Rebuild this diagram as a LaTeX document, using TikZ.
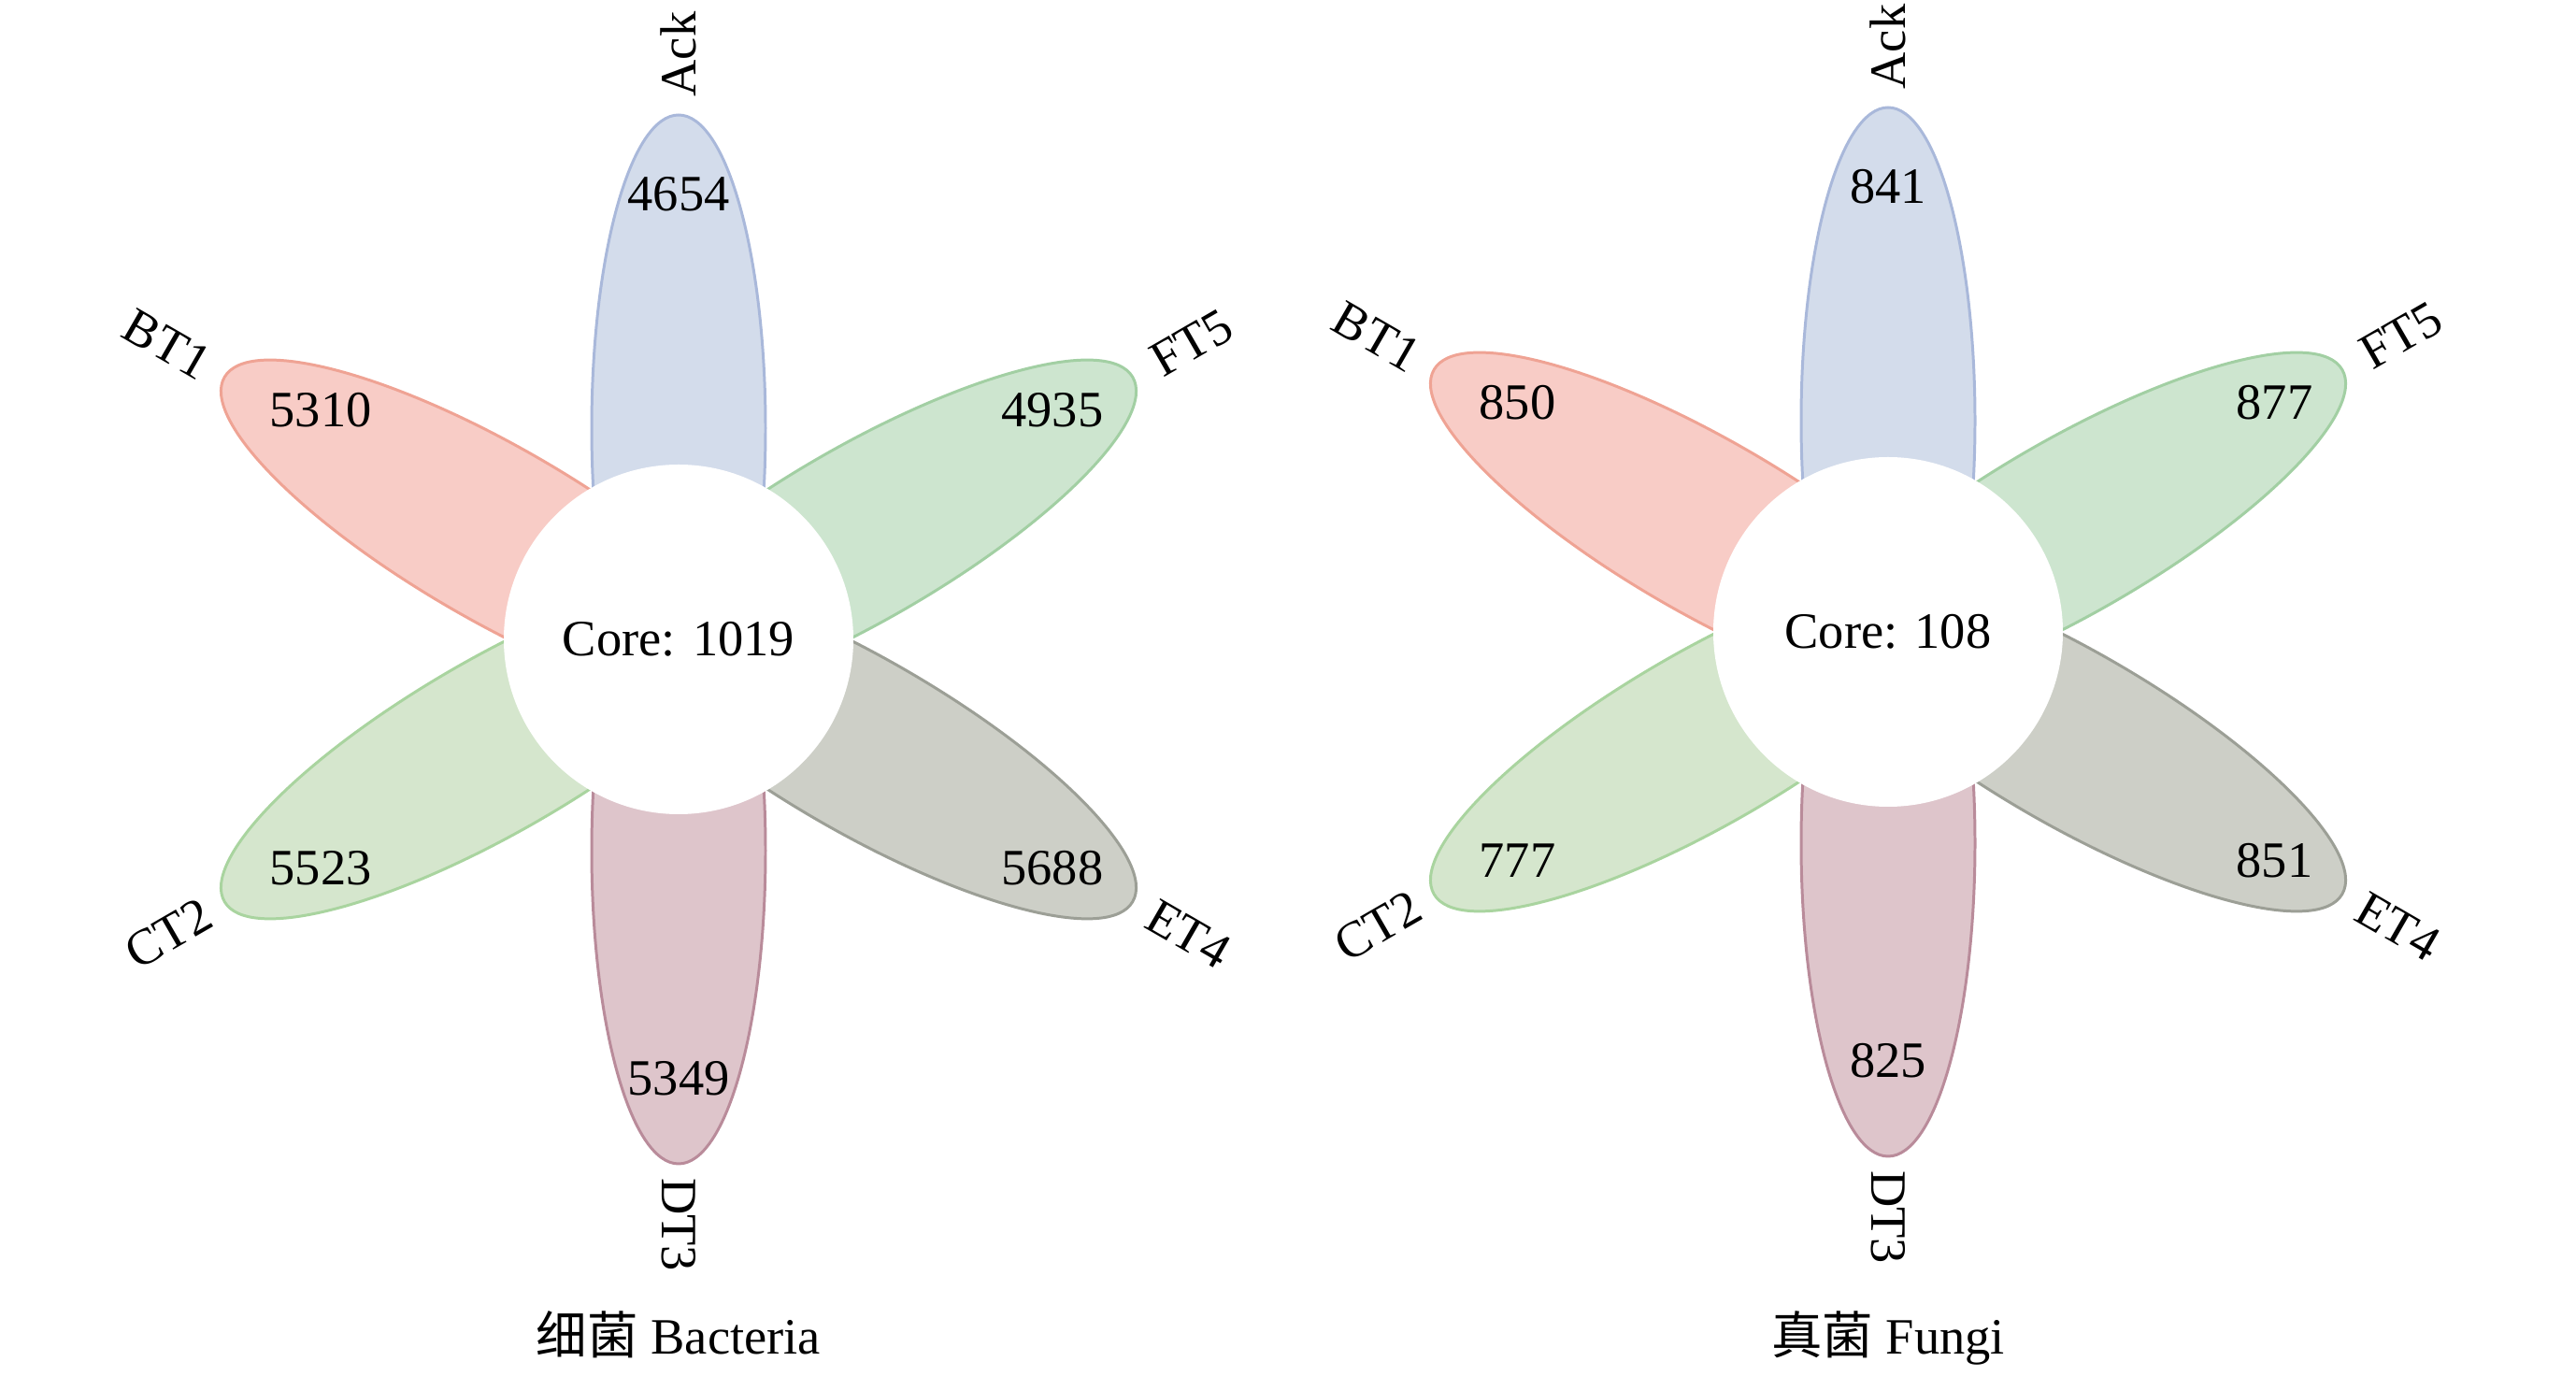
\documentclass[tikz,border=0pt]{standalone}
\usepackage{fontspec}
\setmainfont{Liberation Serif}
\newfontfamily\cjk{Noto Sans CJK SC}
\usepackage{tikz}
\usetikzlibrary{positioning}

\definecolor{ackfill}{HTML}{D3DCEB}
\definecolor{ackline}{HTML}{A9B8DA}
\definecolor{btfill}{HTML}{F8CCC6}
\definecolor{btline}{HTML}{EFA394}
\definecolor{ftfill}{HTML}{CDE5CF}
\definecolor{ftline}{HTML}{A2CFA3}
\definecolor{ctfill}{HTML}{D5E6CD}
\definecolor{ctline}{HTML}{A9D49F}
\definecolor{etfill}{HTML}{CDCFC7}
\definecolor{etline}{HTML}{9C9F96}
\definecolor{dtfill}{HTML}{DEC5CB}
\definecolor{dtline}{HTML}{B98B9A}

\begin{document}
\begin{tikzpicture}[font=\fontsize{15.5}{18}\selectfont]
\tikzstyle{petal}=[line width=.85pt]
\tikzstyle{core}=[circle,fill=white,minimum size=3.74cm,inner sep=0pt]
\tikzstyle{num}=[inner sep=0pt]
\tikzstyle{tag}=[inner sep=0pt]
    \useasboundingbox (0,0) rectangle (27.56,14.72);
    \coordinate (L) at (7.26,7.88);
    \coordinate (R) at (20.20,7.96);
    % bacteria
    \filldraw[petal,draw=ackline,fill=ackfill,shift={(L)},rotate=90] (2.26,0) ellipse (3.35 and .93);
    \filldraw[petal,draw=btline,fill=btfill,shift={(L)},rotate=150] (2.26,0) ellipse (3.35 and .93);
    \filldraw[petal,draw=ftline,fill=ftfill,shift={(L)},rotate=30] (2.26,0) ellipse (3.35 and .93);
    \filldraw[petal,draw=ctline,fill=ctfill,shift={(L)},rotate=210] (2.26,0) ellipse (3.35 and .93);
    \filldraw[petal,draw=etline,fill=etfill,shift={(L)},rotate=-30] (2.26,0) ellipse (3.35 and .93);
    \filldraw[petal,draw=dtline,fill=dtfill,shift={(L)},rotate=-90] (2.26,0) ellipse (3.35 and .93);
    \node[core] (lcore) at (L) {Core: 1019};
    \node[num] (lack) at ([shift={(0,4.76)}]L) {4654};
    \node[num,anchor=west] (lbt) at ([shift={(-4.38,2.45)}]L) {5310};
    \node[num,anchor=east] (lft) at ([shift={(4.55,2.45)}]L) {4935};
    \node[num,anchor=west] (lct) at ([shift={(-4.38,-2.45)}]L) {5523};
    \node[num,anchor=east] (let) at ([shift={(4.55,-2.45)}]L) {5688};
    \node[num] (ldt) at ([shift={(0,-4.70)}]L) {5349};
    \node[tag,rotate=90] (lackt) at ([shift={(90:6.26)}]L) {Ack};
    \node[tag,rotate=-30] (lbtt) at ([shift={(150:6.32)}]L) {BT1};
    \node[tag,rotate=30] (lftt) at ([shift={(30:6.34)}]L) {FT5};
    \node[tag,rotate=30] (lctt) at ([shift={(210:6.3)}]L) {CT2};
    \node[tag,rotate=-30] (lett) at ([shift={(-30:6.3)}]L) {ET4};
    \node[tag,rotate=-90] (ldtt) at ([shift={(-90:6.26)}]L) {DT3};
    \node[anchor=base] (lcap) at (7.26,.23) {{\cjk 细菌} Bacteria};
    % fungi
    \filldraw[petal,draw=ackline,fill=ackfill,shift={(R)},rotate=90] (2.26,0) ellipse (3.35 and .93);
    \filldraw[petal,draw=btline,fill=btfill,shift={(R)},rotate=150] (2.26,0) ellipse (3.35 and .93);
    \filldraw[petal,draw=ftline,fill=ftfill,shift={(R)},rotate=30] (2.26,0) ellipse (3.35 and .93);
    \filldraw[petal,draw=ctline,fill=ctfill,shift={(R)},rotate=210] (2.26,0) ellipse (3.35 and .93);
    \filldraw[petal,draw=etline,fill=etfill,shift={(R)},rotate=-30] (2.26,0) ellipse (3.35 and .93);
    \filldraw[petal,draw=dtline,fill=dtfill,shift={(R)},rotate=-90] (2.26,0) ellipse (3.35 and .93);
    \node[core] (rcore) at (R) {Core: 108};
    \node[num] (rack) at ([shift={(0,4.76)}]R) {841};
    \node[num,anchor=west] (rbt) at ([shift={(-4.38,2.45)}]R) {850};
    \node[num,anchor=east] (rft) at ([shift={(4.55,2.45)}]R) {877};
    \node[num,anchor=west] (rct) at ([shift={(-4.38,-2.45)}]R) {777};
    \node[num,anchor=east] (ret) at ([shift={(4.55,-2.45)}]R) {851};
    \node[num] (rdt) at ([shift={(0,-4.59)}]R) {825};
    \node[tag,rotate=90] (rackt) at ([shift={(90:6.26)}]R) {Ack};
    \node[tag,rotate=-30] (rbtt) at ([shift={(150:6.32)}]R) {BT1};
    \node[tag,rotate=30] (rftt) at ([shift={(30:6.34)}]R) {FT5};
    \node[tag,rotate=30] (rctt) at ([shift={(210:6.3)}]R) {CT2};
    \node[tag,rotate=-30] (rett) at ([shift={(-30:6.3)}]R) {ET4};
    \node[tag,rotate=-90] (rdtt) at ([shift={(-90:6.26)}]R) {DT3};
    \node[anchor=base] (rcap) at (20.20,.23) {{\cjk 真菌} Fungi};
\end{tikzpicture}
\end{document}
